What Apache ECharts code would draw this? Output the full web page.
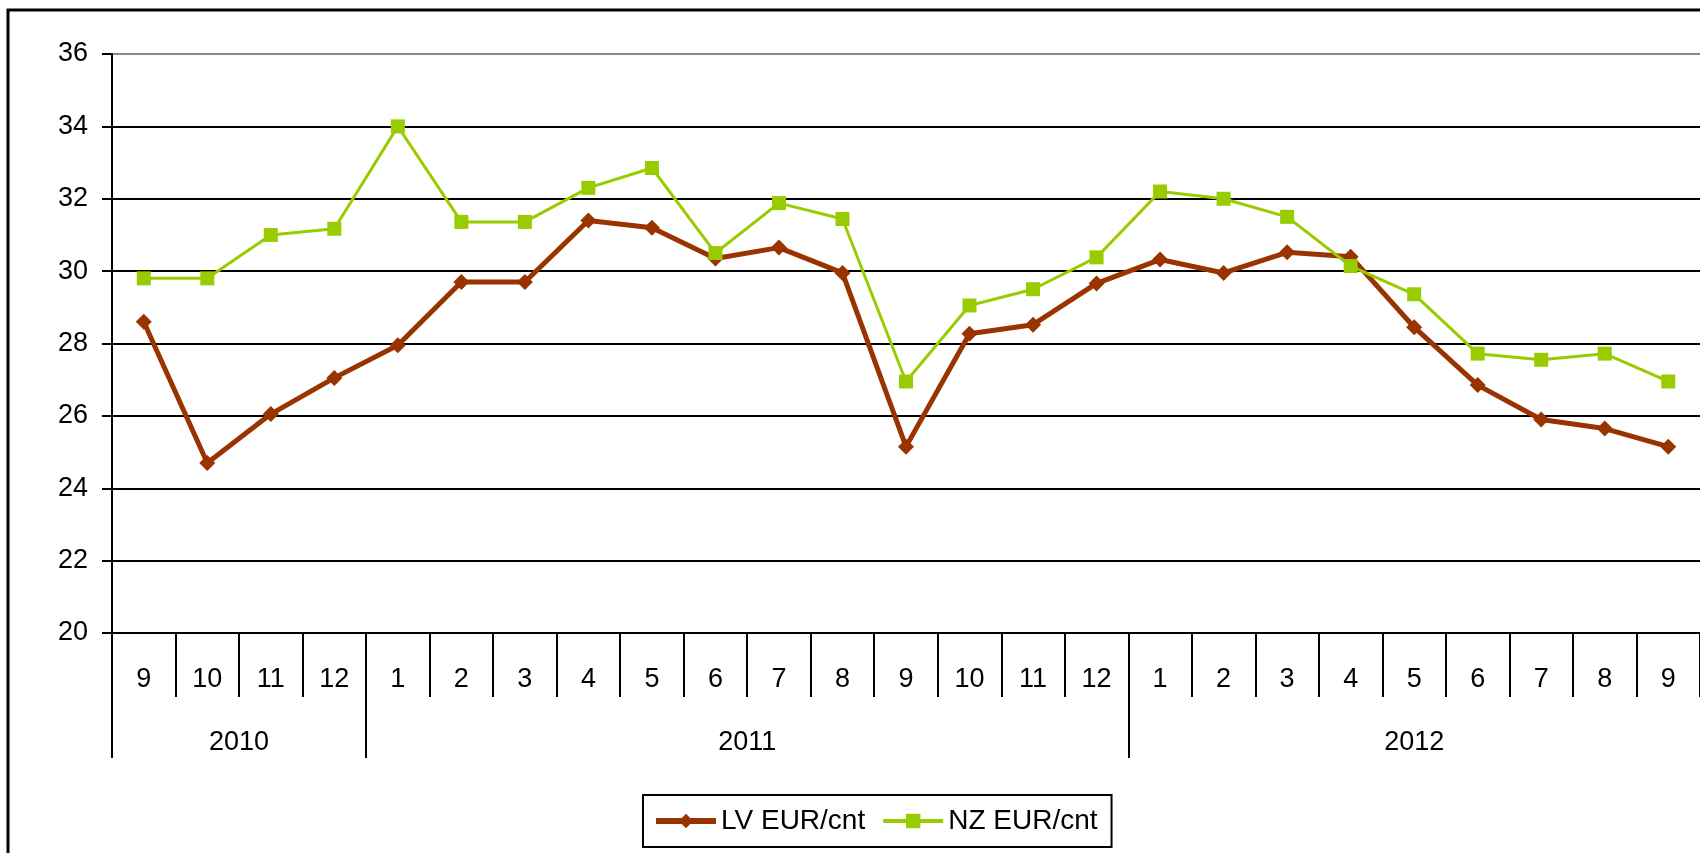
<!DOCTYPE html>
<html>
<head>
<meta charset="utf-8">
<script src="https://cdn.jsdelivr.net/npm/echarts@6/dist/echarts.min.js"></script>
<style>
  html, body { margin: 0; padding: 0; background: #fff; }
  #main { width: 1700px; height: 853px; }
</style>
</head>
<body>
<div id="main"></div>
<script>
// months on the axis (Sep 2010 .. Sep 2012)
var months = ['9', '10', '11', '12', '1', '2', '3', '4', '5', '6', '7', '8', '9', '10', '11', '12',
  '1', '2', '3', '4', '5', '6', '7', '8', '9'];
// year groups and how many months each one covers
var years = ['2010', '2011', '2012'];
var yearMonths = [4, 12, 9];

var lvData = [28.6, 24.7, 26.05, 27.05, 27.95, 29.7, 29.7, 31.4, 31.2, 30.35, 30.65, 29.95,
  25.15, 28.27, 28.52, 29.66, 30.32, 29.95, 30.52, 30.4, 28.45, 26.85, 25.9, 25.65, 25.15];
var nzData = [29.8, 29.8, 31.0, 31.17, 34.0, 31.36, 31.36, 32.3, 32.85, 30.5, 31.88, 31.44,
  26.95, 29.05, 29.5, 30.38, 32.2, 32.0, 31.5, 30.14, 29.36, 27.72, 27.55, 27.72, 26.95];

var yTicks = [20, 22, 24, 26, 28, 30, 32, 34, 36];

// year boundaries and label positions on a 0..n month scale
var bounds = [0];
var centers = [];
yearMonths.forEach(function (n, i) {
  centers.push(bounds[i] + n / 2);
  bounds.push(bounds[i] + n);
});

var font = 'Arial, "Liberation Sans", sans-serif';
var chart = echarts.init(document.getElementById('main'));

var gridColors = yTicks.map(function (t, i) { return i === yTicks.length - 1 ? '#888888' : '#000000'; });

chart.setOption({
  animation: false,
  backgroundColor: '#fff',
  graphic: [{
    type: 'rect',
    shape: { x: 8, y: 10, width: 1800, height: 900 },
    style: { fill: 'none', stroke: '#000', lineWidth: 3 },
    silent: true
  }],
  grid: { left: 112, top: 54, width: 1600, height: 579 },
  legend: {
    left: 643,
    top: 795,
    padding: [12, 14, 12, 10],
    itemGap: 16,
    itemWidth: 60,
    itemHeight: 18,
    borderColor: '#000',
    borderWidth: 2,
    textStyle: { fontSize: 28, color: '#000', fontFamily: font },
    data: [
      { name: 'LV EUR/cnt', lineStyle: { width: 6 } },
      { name: 'NZ EUR/cnt', lineStyle: { width: 4 } }
    ]
  },
  xAxis: [{
    type: 'category',
    data: months,
    boundaryGap: true,
    axisLine: { lineStyle: { color: '#000', width: 2 } },
    axisTick: { show: true, interval: 0, length: 64, lineStyle: { color: '#000', width: 2 } },
    axisLabel: { margin: 33, fontSize: 27, color: '#000', fontFamily: font, interval: 0 }
  }, {
    type: 'value',
    position: 'bottom',
    min: 0,
    max: bounds[bounds.length - 1],
    axisLine: { show: false },
    splitLine: { show: false },
    axisTick: { show: true, customValues: bounds.slice(0, -1), length: 125, lineStyle: { color: '#000', width: 2 } },
    axisLabel: {
      customValues: centers,
      margin: 96,
      fontSize: 27,
      color: '#000',
      fontFamily: font,
      formatter: function (v) {
        var i = centers.indexOf(v);
        return i >= 0 ? years[i] : '';
      }
    }
  }],
  yAxis: {
    type: 'value',
    min: 20,
    max: 36,
    interval: 2,
    axisLine: { show: true, lineStyle: { color: '#000', width: 2 } },
    axisTick: { show: true, length: 10, lineStyle: { color: '#000', width: 2 } },
    axisLabel: { margin: 24, fontSize: 27, color: '#000', fontFamily: font, padding: [8, 0, 0, 0] },
    splitLine: { show: true, lineStyle: { color: gridColors, width: 2 } }
  },
  series: [{
    name: 'LV EUR/cnt',
    type: 'line',
    data: lvData,
    symbol: 'diamond',
    symbolSize: 16,
    itemStyle: { color: '#993300' },
    lineStyle: { color: '#993300', width: 5 },
    z: 3
  }, {
    name: 'NZ EUR/cnt',
    type: 'line',
    data: nzData,
    symbol: 'rect',
    symbolSize: 14,
    itemStyle: { color: '#99CC00' },
    lineStyle: { color: '#99CC00', width: 3 },
    z: 4
  }]
});
</script>
</body>
</html>
